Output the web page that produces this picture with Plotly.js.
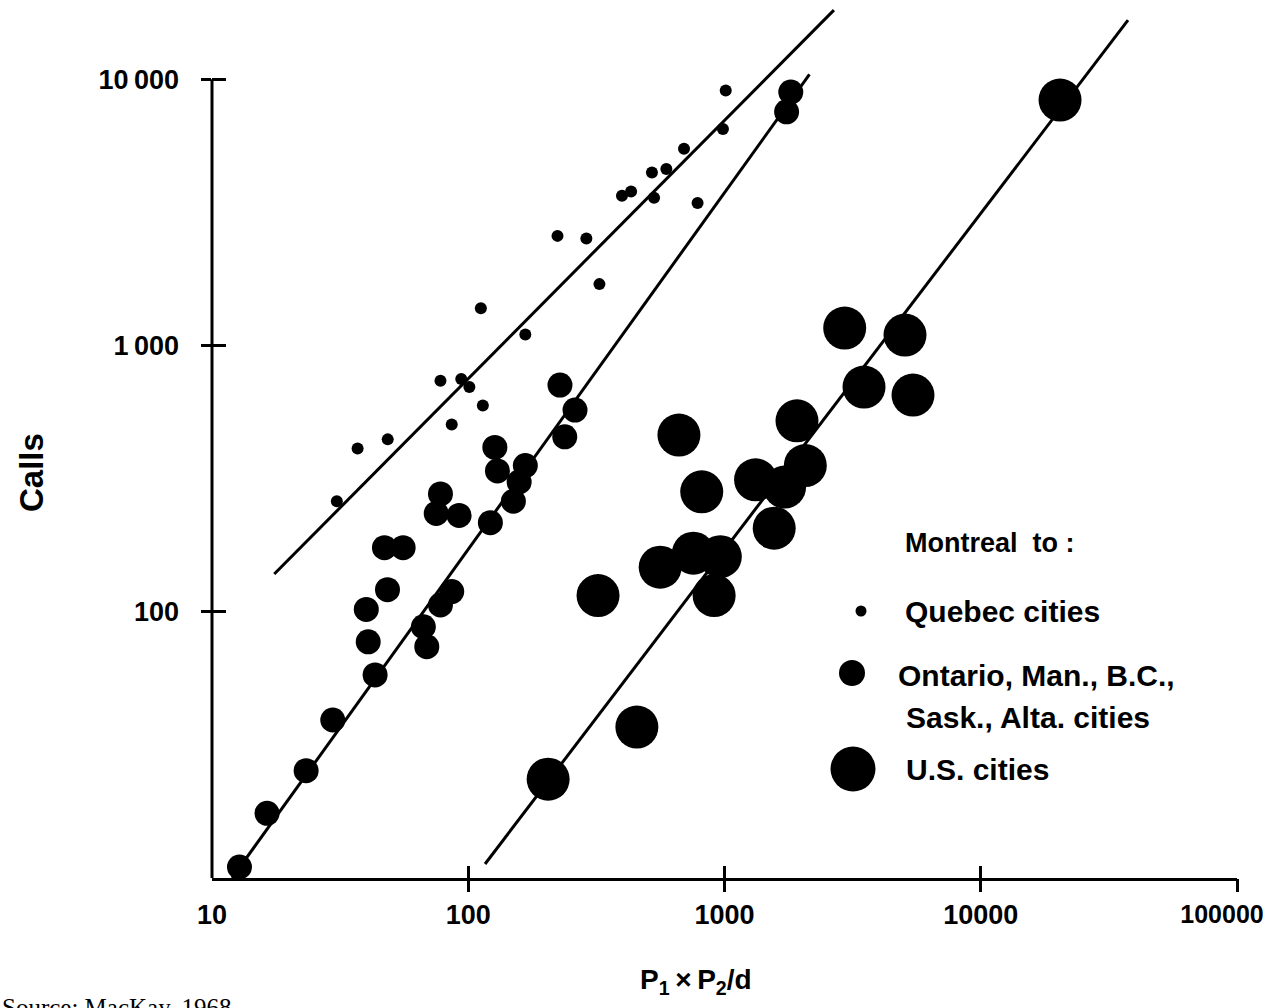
<!DOCTYPE html>
<html><head><meta charset="utf-8">
<script src="https://cdn.plot.ly/plotly-3.0.1.min.js"></script>
<style>html,body{margin:0;padding:0;background:#fff}</style>
</head><body><div id="chart" style="width:1268px;height:1008px"></div>
<script>
// ---- data ----
const quebecX = [1011, 986, 695, 521, 593, 531, 432, 398, 785, 223, 289, 325, 112, 167, 77.9, 93.9, 101, 114, 86.2, 48.5, 37.0, 30.7];
const quebecY = [9070, 6500, 5480, 4460, 4600, 3590, 3790, 3650, 3430, 2580, 2520, 1700, 1380, 1100, 737, 748, 699, 595, 505, 444, 410, 260];

const ontarioX = [1814, 1747, 228, 261, 238, 127, 130, 167, 158, 150, 122, 77.9, 75.0, 92.1, 47.1, 55.7, 48.4, 40.0, 86.2, 77.9, 40.7, 66.8, 68.9, 43.3, 29.6, 23.3, 16.4, 12.8];
const ontarioY = [8950, 7540, 710, 572, 454, 414, 338, 354, 307, 260, 216, 277, 234, 230, 174, 174, 121, 102, 119, 106, 77.1, 87.8, 73.9, 57.9, 39.2, 25.3, 17.5, 11.0];

const usX = [20390, 2945, 5063, 3503, 5440, 1918, 664, 2067, 1322, 1716, 815, 1563, 321, 561, 756, 963, 911, 455, 205];
const usY = [8350, 1163, 1094, 698, 651, 521, 461, 354, 313, 294, 282, 206, 115, 147, 166, 161, 115, 36.9, 23.5];

const quebecFitX = [17.5, 2673];
const quebecFitY = [138.6, 18170];
const ontarioFitX = [11.97, 2146];
const ontarioFitY = [10, 10420];
const usFitX = [116.3, 37550];
const usFitY = [11.29, 16670];

const xTickVals = [10, 100, 1000, 10000, 100000];
const xTickText = ['10', '100', '1000', '10000', '100000'];
const yTickVals = [100, 1000, 10000];
const yTickText = ['100', '1\u2009000', '10\u2009000'];
const yAxisMin = 10;

const legendTitle = 'Montreal  to :';
const legendLabels = ['Quebec cities', 'Ontario, Man., B.C.,', 'Sask., Alta. cities', 'U.S. cities'];
const xTitle = 'P<sub>1</sub>\u2009\u00d7\u2009P<sub>2</sub>/d';
const yTitle = 'Calls';
const sourceText = 'Source: MacKay, 1968';

// ---- layout helpers ----
const L = 212, R = 1237, T = 2, B = 878;
const px = x => (x - L) / (R - L);
const py = y => (B - y) / (B - T);
const FONT = 'Liberation Sans, Arial, Helvetica, sans-serif';
const xRange = [1, 5];
const yRange = [1, 4.29];

const scatter = (x, y, size) => ({
  type: 'scatter', mode: 'markers', x: x, y: y, cliponaxis: false, hoverinfo: 'skip', showlegend: false,
  marker: {color: '#000', size: size, line: {width: 0}}
});
const fit = (x, y) => ({
  type: 'scatter', mode: 'lines', x: x, y: y, hoverinfo: 'skip', showlegend: false,
  line: {color: '#000', width: 3}
});
const dummy = (xa, ya) => ({type: 'scatter', x: [], y: [], xaxis: xa, yaxis: ya, showlegend: false, hoverinfo: 'skip'});

const traces = [
  fit(quebecFitX, quebecFitY),
  fit(ontarioFitX, ontarioFitY),
  fit(usFitX, usFitY),
  scatter(quebecX, quebecY, 12),
  scatter(ontarioX, ontarioY, 25),
  scatter(usX, usY, 43),
  dummy('x2', 'y2'),
  dummy('x3', 'y3'),
  dummy('x4', 'y')
];

const tickFont = {family: FONT, size: 27, color: '#000', weight: 'bold'};
const baseX = {type: 'log', range: xRange, showgrid: false, zeroline: false, fixedrange: true};
const baseY = {type: 'log', range: yRange, showgrid: false, zeroline: false, fixedrange: true};
const lastX = xTickVals.length - 1;

const legendCircle = (cx, cy, d) => ({
  type: 'circle', xref: 'paper', yref: 'paper', xsizemode: 'pixel', ysizemode: 'pixel',
  xanchor: px(cx), yanchor: py(cy), x0: -d / 2, x1: d / 2, y0: -d / 2, y1: d / 2,
  fillcolor: '#000', line: {width: 0}
});
const legendText = (text, x, y, size) => ({
  text: text, xref: 'paper', yref: 'paper', x: px(x), y: py(y), xanchor: 'left', yanchor: 'middle',
  showarrow: false, font: {family: FONT, size: size || 30, color: '#000', weight: 'bold'}
});

const layout = {
  width: 1268, height: 1008,
  margin: {l: L, r: 1268 - R, t: T, b: 1008 - B},
  paper_bgcolor: '#fff', plot_bgcolor: '#fff',
  showlegend: false,
  xaxis: Object.assign({}, baseX, {
    showline: true, linewidth: 3, linecolor: '#000', ticks: '',
    tickvals: xTickVals.slice(0, lastX), ticktext: xTickText.slice(0, lastX),
    tickfont: tickFont, ticklabelstandoff: 11
  }),
  xaxis4: Object.assign({}, baseX, {
    overlaying: 'x', anchor: 'y', side: 'bottom', showline: false, ticks: '',
    tickvals: xTickVals.slice(lastX), ticktext: xTickText.slice(lastX),
    tickfont: Object.assign({}, tickFont, {size: 25}), ticklabelstandoff: 19,
    ticklabelshift: -15, ticklabeloverflow: 'allow'
  }),
  xaxis2: Object.assign({}, baseX, {
    overlaying: 'x', anchor: 'y', side: 'bottom', showline: false, showticklabels: false,
    ticks: 'outside', ticklen: 13, tickwidth: 3, tickcolor: '#000', tickvals: xTickVals.slice(1)
  }),
  xaxis3: Object.assign({}, baseX, {
    overlaying: 'x', anchor: 'y', side: 'bottom', showline: false, showticklabels: false,
    ticks: 'inside', ticklen: 12, tickwidth: 3, tickcolor: '#000', tickvals: xTickVals.slice(1)
  }),
  yaxis: Object.assign({}, baseY, {
    showline: false, ticks: '',
    tickvals: yTickVals, ticktext: yTickText, tickfont: tickFont, ticklabelstandoff: 32
  }),
  yaxis2: Object.assign({}, baseY, {
    overlaying: 'y', anchor: 'x', side: 'left', showline: false, showticklabels: false,
    ticks: 'outside', ticklen: 10, tickwidth: 3, tickcolor: '#000', tickvals: yTickVals
  }),
  yaxis3: Object.assign({}, baseY, {
    overlaying: 'y', anchor: 'x', side: 'left', showline: false, showticklabels: false,
    ticks: 'inside', ticklen: 14, tickwidth: 3, tickcolor: '#000', tickvals: yTickVals
  }),
  shapes: [
    {type: 'line', xref: 'paper', yref: 'y', x0: 0, x1: 0, y0: yAxisMin, y1: yTickVals[yTickVals.length - 1],
     line: {color: '#000', width: 3}},
    legendCircle(861, 611, 11),
    legendCircle(852, 673, 26),
    legendCircle(853, 769, 45)
  ],
  annotations: [
    legendText(legendTitle, 903, 543, 27),
    legendText(legendLabels[0], 903, 611),
    legendText(legendLabels[1], 896, 675),
    legendText(legendLabels[2], 904, 717),
    legendText(legendLabels[3], 904, 769),
    {text: xTitle, xref: 'paper', yref: 'paper', x: px(696), y: py(982), xanchor: 'center', yanchor: 'middle',
     showarrow: false, font: {family: FONT, size: 28, color: '#000', weight: 'bold'}},
    {text: yTitle, xref: 'paper', yref: 'paper', x: px(31), y: py(473), xanchor: 'center', yanchor: 'middle',
     textangle: -90, showarrow: false, font: {family: FONT, size: 33, color: '#000', weight: 'bold'}},
    {text: sourceText, xref: 'paper', yref: 'paper', x: px(0), y: py(992), xanchor: 'left', yanchor: 'top',
     showarrow: false, font: {family: 'Liberation Serif, Times New Roman, serif', size: 25, color: '#000'}}
  ]
};

Plotly.newPlot('chart', traces, layout, {staticPlot: true, displayModeBar: false});
</script>
</body></html>
